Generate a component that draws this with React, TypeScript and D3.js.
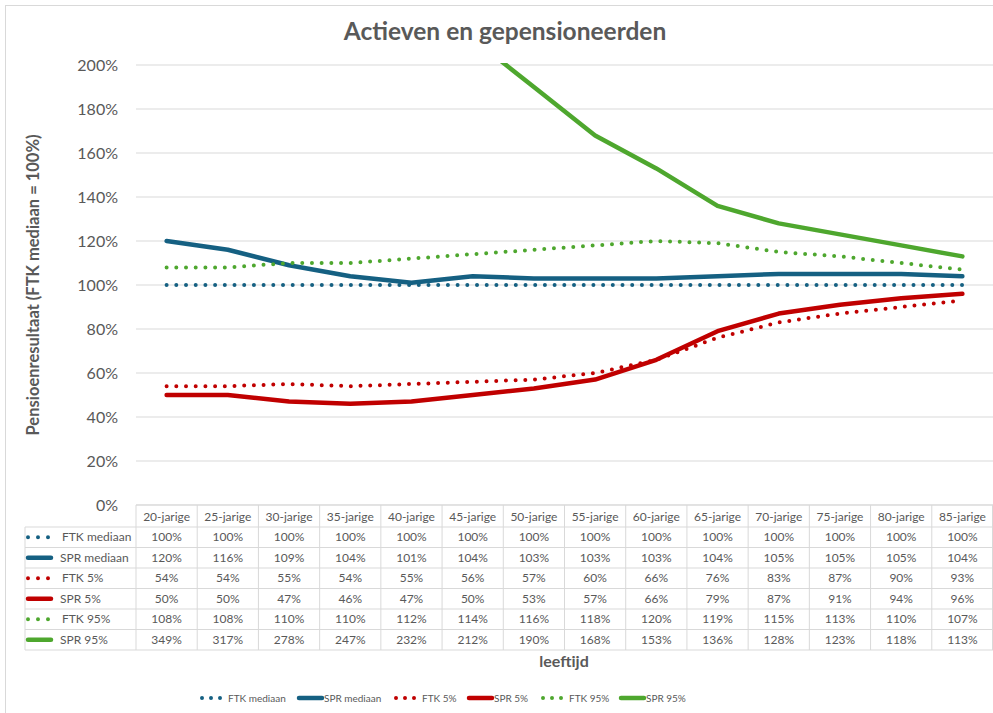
import React, { useEffect, useRef } from 'react'
import * as d3 from 'd3'

const ages = ['20-jarige', '25-jarige', '30-jarige', '35-jarige', '40-jarige', '45-jarige', '50-jarige', '55-jarige', '60-jarige', '65-jarige', '70-jarige', '75-jarige', '80-jarige', '85-jarige']
const ftkMediaan = [100, 100, 100, 100, 100, 100, 100, 100, 100, 100, 100, 100, 100, 100]
const sprMediaan = [120, 116, 109, 104, 101, 104, 103, 103, 103, 104, 105, 105, 105, 104]
const ftk5 = [54, 54, 55, 54, 55, 56, 57, 60, 66, 76, 83, 87, 90, 93]
const spr5 = [50, 50, 47, 46, 47, 50, 53, 57, 66, 79, 87, 91, 94, 96]
const ftk95 = [108, 108, 110, 110, 112, 114, 116, 118, 120, 119, 115, 113, 110, 107]
const spr95 = [349, 317, 278, 247, 232, 212, 190, 168, 153, 136, 128, 123, 118, 113]
// table shows rounded values, lines use the same numbers
const yTicks = [0, 20, 40, 60, 80, 100, 120, 140, 160, 180, 200]

const series = [
  { name: 'FTK mediaan', values: ftkMediaan, color: '#156082', dotted: true },
  { name: 'SPR mediaan', values: sprMediaan, color: '#156082', dotted: false },
  { name: 'FTK 5%', values: ftk5, color: '#C00000', dotted: true },
  { name: 'SPR 5%', values: spr5, color: '#C00000', dotted: false },
  { name: 'FTK 95%', values: ftk95, color: '#4EA72E', dotted: true },
  { name: 'SPR 95%', values: spr95, color: '#4EA72E', dotted: false },
]

const FONT = 'Lato, "Open Sans", sans-serif'
const TXT = '#595959'
const GRID = '#d9d9d9'

export default function App() {
  const ref = useRef<SVGSVGElement>(null)

  useEffect(() => {
    const svg = d3.select(ref.current)
    svg.selectAll('*').remove()

    const left = 136, right = 993, top = 65, bottom = 505

    svg.append('rect').attr('x', 5.5).attr('y', 5.5).attr('width', 1100).attr('height', 800)
      .attr('fill', '#fff').attr('stroke', GRID)

    const x = d3.scaleBand().domain(ages).range([left, right])
    const cx = (i: number) => (x(ages[i]) as number) + x.bandwidth() / 2
    const y = d3.scaleLinear().domain([0, 200]).range([bottom, top])

    // title
    svg.append('text').attr('x', 505).attr('y', 40).attr('text-anchor', 'middle')
      .attr('font-family', FONT).attr('font-size', 24.5).attr('font-weight', 700).attr('fill', TXT)
      .text('Actieven en gepensioneerden')

    // grid + y labels
    const g = svg.append('g')
    yTicks.forEach(t => {
      g.append('line').attr('x1', left).attr('x2', right).attr('y1', y(t)).attr('y2', y(t))
        .attr('stroke', GRID).attr('stroke-width', 1)
      g.append('text').attr('x', 118).attr('y', y(t) + 5.5).attr('text-anchor', 'end')
        .attr('font-family', FONT).attr('font-size', 16).attr('fill', TXT)
        .text(t + '%')
    })

    // y title
    svg.append('text').attr('transform', `translate(39,${285}) rotate(-90)`).attr('text-anchor', 'middle')
      .attr('font-family', FONT).attr('font-size', 16.5).attr('font-weight', 700).attr('fill', TXT)
      .text('Pensioenresultaat (FTK mediaan = 100%)')

    // lines
    svg.append('clipPath').attr('id', 'plotclip').append('rect')
      .attr('x', left).attr('y', top - 2).attr('width', right - left).attr('height', bottom - top + 2)
    const line = d3.line<number>().x((_, i) => cx(i)).y(d => y(d))
    const lg = svg.append('g').attr('clip-path', 'url(#plotclip)')
    series.forEach(s => {
      const p = lg.append('path').attr('d', line(s.values)).attr('fill', 'none')
        .attr('stroke', s.color).attr('stroke-linejoin', 'round')
      if (s.dotted) p.attr('stroke-width', 4).attr('stroke-linecap', 'round').attr('stroke-dasharray', '0 9.7')
      else p.attr('stroke-width', 4.5).attr('stroke-linecap', 'round')
    })

    // data table
    const tTop = bottom, hdrH = 22, rowH = 20.5, tLeft = 25
    const tBottom = tTop + hdrH + rowH * series.length
    const tg = svg.append('g')
    tg.append('line').attr('x1', left).attr('x2', right).attr('y1', tTop).attr('y2', tTop).attr('stroke', GRID)
    for (let r = 0; r <= series.length; r++) {
      const yy = tTop + hdrH + r * rowH
      tg.append('line').attr('x1', tLeft).attr('x2', right).attr('y1', yy).attr('y2', yy).attr('stroke', GRID)
    }
    tg.append('line').attr('x1', tLeft).attr('x2', tLeft).attr('y1', tTop + hdrH).attr('y2', tBottom).attr('stroke', GRID)
    ages.forEach(a => {
      const xx = x(a) as number
      tg.append('line').attr('x1', xx).attr('x2', xx).attr('y1', tTop).attr('y2', tBottom).attr('stroke', GRID)
    })
    tg.append('line').attr('x1', right - 0.5).attr('x2', right - 0.5).attr('y1', tTop).attr('y2', tBottom).attr('stroke', GRID)

    ages.forEach((a, i) => {
      tg.append('text').attr('x', cx(i)).attr('y', tTop + 15.5).attr('text-anchor', 'middle')
        .attr('font-family', FONT).attr('font-size', 12).attr('fill', TXT).text(a)
    })
    series.forEach((s, r) => {
      const my = tTop + hdrH + r * rowH + rowH / 2
      drawKey(tg, s, tLeft + 1, my, 10)
      tg.append('text').attr('x', s.dotted ? tLeft + 37 : tLeft + 35).attr('y', my + 4.2)
        .attr('font-family', FONT).attr('font-size', 12).attr('fill', TXT).text(s.name)
      s.values.forEach((v, i) => {
        tg.append('text').attr('x', cx(i)).attr('y', my + 4.2).attr('text-anchor', 'middle')
          .attr('font-family', FONT).attr('font-size', 12).attr('fill', TXT).text(v + '%')
      })
    })

    // x title
    svg.append('text').attr('x', 564).attr('y', 667).attr('text-anchor', 'middle')
      .attr('font-family', FONT).attr('font-size', 16).attr('font-weight', 700).attr('fill', TXT)
      .text('leeftijd')

    // legend
    const legX = [200, 297, 394, 467, 541, 619]
    series.forEach((s, i) => {
      drawKey(svg, s, legX[i], 698, 9)
      svg.append('text').attr('x', s.dotted ? legX[i] + 28 : legX[i] + 27).attr('y', 701.5)
        .attr('font-family', FONT).attr('font-size', 10).attr('fill', TXT).text(s.name)
    })

    function drawKey(sel: any, s: any, x0: number, yy: number, gap: number) {
      if (s.dotted) {
        sel.append('line').attr('x1', x0 + 2).attr('x2', x0 + 2 + gap * 2 + 0.5).attr('y1', yy).attr('y2', yy)
          .attr('stroke', s.color).attr('stroke-width', 4).attr('stroke-linecap', 'round').attr('stroke-dasharray', `0 ${gap}`)
      } else {
        sel.append('line').attr('x1', x0 + 2).attr('x2', x0 + 25).attr('y1', yy).attr('y2', yy)
          .attr('stroke', s.color).attr('stroke-width', 4.5).attr('stroke-linecap', 'round')
      }
    }
  }, [])

  return (
    <svg ref={ref} width={993} height={713} style={{ display: 'block', position: 'absolute', left: 0, top: 0 }} />
  )
}
